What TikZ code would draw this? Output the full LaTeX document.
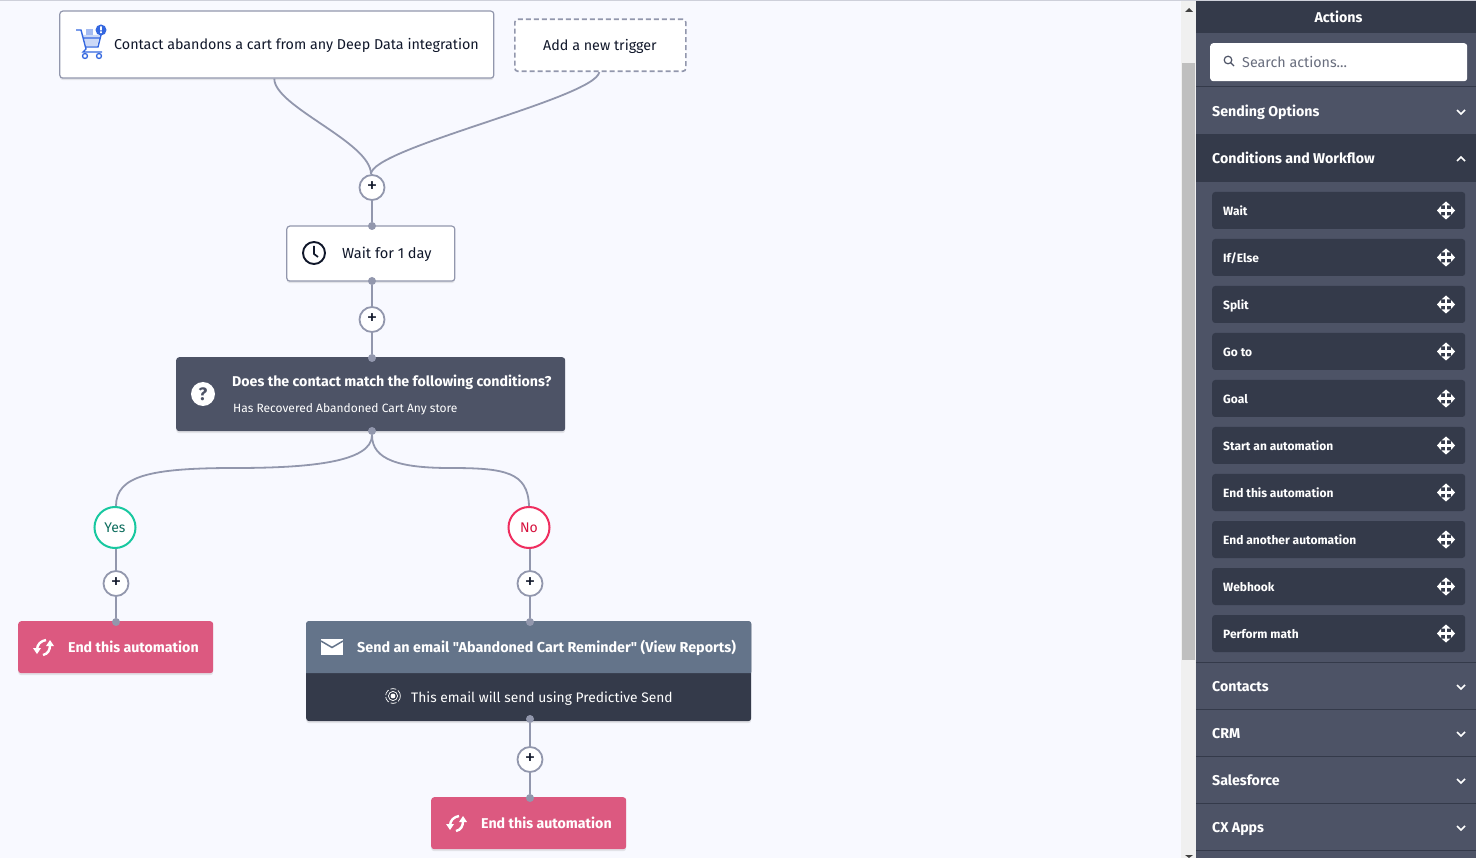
\documentclass[tikz,border=0pt]{standalone}
\usepackage{fontspec}
\setmainfont{Fira Sans}[Ligatures=TeXOff]
\usetikzlibrary{shadows}
\definecolor{canvasbg}{HTML}{F8F9FF}
\definecolor{wirecol}{HTML}{9297AD}
\definecolor{slatecol}{HTML}{4D5366}
\definecolor{darkcol}{HTML}{343A4A}
\definecolor{pinkcol}{HTML}{DC5980}
\definecolor{mailcol}{HTML}{64748A}
\definecolor{cartcol}{HTML}{3467E0}
\definecolor{inkcol}{HTML}{10172A}
\definecolor{yescol}{HTML}{18C8A0}
\definecolor{yestext}{HTML}{0E6E5E}
\definecolor{nocol}{HTML}{EF2E5F}
\definecolor{notext}{HTML}{D6123E}
\tikzset{
  softshadow/.style={drop shadow={opacity=.18, shadow xshift=0pt, shadow yshift=-2pt}},
  box/.style={rectangle, rounded corners=3pt, inner sep=0pt, anchor=north west},
  whitebox/.style={box, draw=wirecol, line width=1.2pt, fill=white, softshadow},
  endbox/.style={box, fill=pinkcol, softshadow},
  wire/.style={draw=wirecol, line width=1.8pt},
  wiredot/.style={circle, fill=wirecol, inner sep=0pt, minimum size=8pt},
  plusnode/.style={circle, draw=wirecol, line width=1.8pt, fill=white, inner sep=0pt, minimum size=25pt, font=\fontsize{21}{21}\selectfont, text=inkcol},
  branch/.style={circle, line width=2pt, fill=white, inner sep=0pt, minimum size=41pt, font=\fontsize{14}{14}\selectfont},
  boxtext/.style={anchor=base west, yshift=-5.6pt, inner sep=0pt, font=\fontsize{14.3}{14}\selectfont},
  headtext/.style={anchor=base west, yshift=-5.6pt, inner sep=0pt, text=white, font=\fontsize{14.2}{14}\selectfont\bfseries},
  itemtext/.style={anchor=base west, yshift=-4.9pt, inner sep=0pt, text=white, font=\fontsize{12}{12}\selectfont\bfseries},
  chevdown/.pic={\draw[white, line width=1.6pt] (-4,-2) -- (0,2) -- (4,-2);},
  chevup/.pic={\draw[white, line width=1.6pt] (-4,2) -- (0,-2) -- (4,2);},
  moveicon/.pic={
    \draw[white, line width=2.6pt] (-6,0) -- (6,0) (0,-6) -- (0,6);
    \fill[white] (-9,0) -- (-5,-4.5) -- (-5,4.5) -- cycle (9,0) -- (5,-4.5) -- (5,4.5) -- cycle
      (0,-9) -- (-4.5,-5) -- (4.5,-5) -- cycle (0,9) -- (-4.5,5) -- (4.5,5) -- cycle;
  },
  syncicon/.pic={
    \draw[white, line width=2.4pt] (-7,3) .. controls (-7,-3) and (-3,-6) .. (2,-7);
    \draw[white, line width=2.4pt] (-1,8) .. controls (4,7) and (6,3) .. (6,-2);
    \fill[white] (-11,1) -- (-3,1) -- (-7,7) -- cycle (2,-1) -- (10,-1) -- (6,-7) -- cycle;
  },
  carticon/.pic={
    \fill[cartcol!25] (-8,-8) -- (9,-8) -- (6,3) -- (-5,3) -- cycle;
    \fill[cartcol!45] (-5,-14) rectangle (2,-8);
    \draw[cartcol, line width=1.4pt] (-15,-13) -- (-10,-13) -- (-5,6) -- (-8,9) -- (11,9)
      (-8,-5) -- (9,-5) (10,-8) -- (7,4) -- (-5,4);
    \draw[cartcol, line width=1.3pt, fill=white] (-6,13) circle (2.5) (8,13) circle (2.5);
    \fill[cartcol] (10,-13) circle (5.5);
    \fill[white] (9.2,-16.5) rectangle (10.8,-12.5) (9.2,-11.5) rectangle (10.8,-9.8);
  },
  predicticon/.pic={
    \fill[white] (0,0) circle (2.4);
    \draw[white, line width=.7pt] (0,0) circle (4.6);
    \draw[white, line width=.7pt, dash pattern=on 6pt off 2pt] (0,0) circle (7.4);
  },
}
\begin{document}
\begin{tikzpicture}[x=1pt, y=-1pt]
  \useasboundingbox (0,0) rectangle (1476,858);
  \fill[canvasbg] (0,0) rectangle (1476,858);
  \fill[wirecol!45] (0,0) rectangle (1476,1);

  % triggers
  \node[whitebox, minimum width=434pt, minimum height=67pt] (trigger) at (59.2,10.5) {};
  \node[box, draw=wirecol, line width=1.6pt, dash pattern=on 5pt off 3pt, fill=white, minimum width=171pt, minimum height=52pt] (newtrigger) at (514,18.5) {};
  \pic at (91,43) {carticon};
  \node[boxtext, text=inkcol] (triggertext) at (114,44) {Contact abandons a cart from any Deep Data integration};
  \node[boxtext, text=inkcol] (newtext) at (543,45) {Add a new trigger};

  % steps
  \node[plusnode] (plusa) at (372,187.5) {+};
  \node[whitebox, minimum width=168pt, minimum height=55pt] (wait) at (286.2,225.5) {};
  \node[plusnode] (plusb) at (372,319.5) {+};
  \node[box, fill=slatecol, softshadow, minimum width=389pt, minimum height=74pt] (cond) at (176,357) {};
  \node[branch, draw=yescol, text=yestext] (yes) at (115,527.5) {Yes};
  \node[branch, draw=nocol, text=notext] (no) at (529,527.5) {No};
  \node[plusnode] (plusc) at (116,583.5) {+};
  \node[plusnode] (plusd) at (530,583.5) {+};
  \node[endbox, minimum width=195pt, minimum height=52pt] (enda) at (18,621) {};
  \node[box, fill=darkcol, softshadow, minimum width=445pt, minimum height=100pt] (email) at (306,621) {};
  \fill[mailcol] (email.west) [rounded corners=3pt] -- (email.north west) -- (email.north east) [sharp corners] -- (email.east) -- (751,673) -- (306,673) -- cycle;
  \node[plusnode] (pluse) at (530,759.5) {+};
  \node[endbox, minimum width=195pt, minimum height=52pt] (endb) at (431,797) {};

  % dots on the box edges
  \node[wiredot] (waittop) at (372,226) {};
  \node[wiredot] (waitbot) at (372,281) {};
  \node[wiredot] (condtop) at (372,358) {};
  \node[wiredot] (condbot) at (372,431) {};
  \node[wiredot] (endatop) at (116,622) {};
  \node[wiredot] (emailtop) at (530,622) {};
  \node[wiredot] (emailbot) at (530,719) {};
  \node[wiredot] (endbtop) at (530,798) {};

  % connectors
  \draw[wire] ([xshift=-2.5pt]trigger.south) .. controls +(0,28) and +(0,-32) .. ([xshift=-1pt]plusa.north);
  \draw[wire] ([xshift=-1pt]newtrigger.south) .. controls +(-4,26) and +(0,-26) .. ([xshift=-1pt]plusa.north);
  \draw[wire] (plusa) -- (waittop);
  \draw[wire] (waitbot) -- (plusb);
  \draw[wire] (plusb) -- (condtop);
  \coordinate (yesmid) at (235,468);
  \coordinate (nomid) at (450,468);
  \draw[wire] (condbot) .. controls (372,462) and (310,468) .. (yesmid) .. controls (150,468) and (116,476) .. ([xshift=1pt]yes.north);
  \draw[wire] (condbot) .. controls (372,460) and (400,468) .. (nomid) .. controls (505,468) and (528,472) .. (no.north);
  \draw[wire] (plusc |- yes.south) -- (plusc);
  \draw[wire] (plusd |- no.south) -- (plusd);
  \draw[wire] (plusc) -- (endatop);
  \draw[wire] (plusd) -- (emailtop);
  \draw[wire] (emailbot) -- (pluse);
  \draw[wire] (pluse) -- (endbtop);

  % box contents
  \draw[inkcol, line width=1.9pt] (314,253) circle (11);
  \draw[inkcol, line width=1.7pt] (314,246) -- (314,254) -- (318,257);
  \node[boxtext, text=inkcol, font=\fontsize{14.6}{14}\selectfont] (waittext) at (342,253) {Wait for 1 day};
  \fill[white] (203,394) circle (12);
  \node[inner sep=0pt, text=slatecol, font=\fontsize{18}{18}\selectfont\bfseries] (condmark) at (203,394) {?};
  \node[headtext] (condtext) at (232,381) {Does the contact match the following conditions?};
  \node[itemtext, font=\fontsize{12}{12}\selectfont] (condsub) at (233,408) {Has Recovered Abandoned Cart Any store};
  \pic at (44,647) {syncicon};
  \node[headtext] (endatext) at (68,647) {End this automation};
  \fill[white] (321,639) rectangle (343,655);
  \draw[mailcol, line width=1.5pt] (321,641) -- (332,647.5) -- (343,641);
  \node[headtext, font=\fontsize{14.35}{14}\selectfont\bfseries] (mailtext) at (357,647) {Send an email "Abandoned Cart Reminder" (View Reports)};
  \pic at (393,696) {predicticon};
  \node[boxtext, text=white, font=\fontsize{13.8}{14}\selectfont] (sendtext) at (411,697) {This email will send using Predictive Send};
  \pic at (457,823) {syncicon};
  \node[headtext] (endbtext) at (481,823) {End this automation};

  % scrollbar
  \fill[black!6] (1181,1) rectangle (1196,858);
  \fill[black!25] (1182,63) rectangle (1195,660);
  \fill[black!75] (1185,12) -- (1193,12) -- (1189,8) -- cycle;
  \fill[black!75] (1185,855) -- (1193,855) -- (1189,858) -- cycle;

  % side panel
  \fill[slatecol] (1196,1) rectangle (1476,858);
  \fill[darkcol] (1196,1) rectangle (1476,33);
  \fill[darkcol] (1196,134) rectangle (1476,182);
  \node[headtext, anchor=base] (actions) at (1338.5,17) {Actions};
  \node[box, fill=white, minimum width=257pt, minimum height=38pt] (search) at (1210,43) {};
  \draw[slatecol, line width=1.2pt] (1228,60) circle (3.8) (1231,63) -- (1234,66);
  \node[boxtext, text=slatecol!85] (searchtext) at (1242,62) {Search actions...};
  \foreach \yy in {87,662,709,756,803,850}
    \draw[darkcol, line width=1pt] (1196,\yy) -- (1476,\yy);
  \foreach \nm/\yy/\ic in {Sending Options/111/chevdown, Conditions and Workflow/158/chevup, Contacts/686/chevdown, CRM/733/chevdown, Salesforce/780/chevdown, CX Apps/827/chevdown} {
    \node[headtext] at (1212,\yy) {\nm};
    \pic at (1461,\yy+1) {\ic};
  }
  \foreach \nm [count=\i from 0] in {Wait,If/Else,Split,Go to,Goal,Start an automation,End this automation,End another automation,Webhook,Perform math} {
    \node[box, anchor=west, fill=darkcol, minimum width=253pt, minimum height=37pt] (item\i) at (1212,{210.5+47*\i}) {};
    \node[itemtext] (itemtext\i) at (1223,{210.5+47*\i}) {\nm};
    \pic at (1446,{210.5+47*\i}) {moveicon};
  }
\end{tikzpicture}
\end{document}
